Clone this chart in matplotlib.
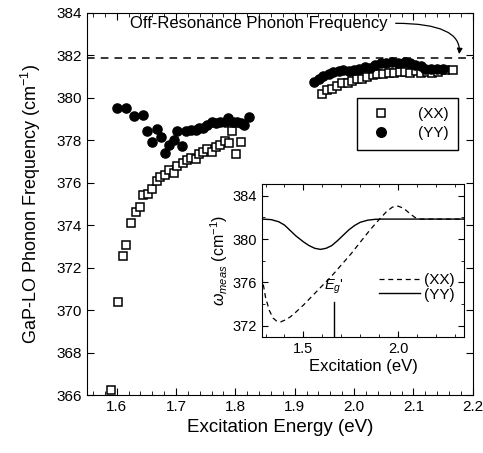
import matplotlib
matplotlib.use("Agg")
from matplotlib import pyplot as plt
from matplotlib.ticker import MultipleLocator

plt.rcParams['font.family'] = ['Liberation Sans', 'DejaVu Sans']
plt.rcParams['mathtext.fontset'] = 'custom'
plt.rcParams['mathtext.rm'] = 'Liberation Sans'
plt.rcParams['mathtext.it'] = 'Liberation Sans:italic'

# measured points (XX) squares
xx_energy = [1.591, 1.602, 1.610, 1.616, 1.625, 1.632, 1.639, 1.645, 1.653, 1.660,
             1.668, 1.673, 1.682, 1.689, 1.696, 1.702, 1.711, 1.718, 1.726, 1.733,
             1.738, 1.746, 1.753, 1.761, 1.768, 1.774, 1.782, 1.789, 1.795, 1.801,
             1.809,
             1.946, 1.955, 1.963, 1.972, 1.980, 1.989, 1.997, 2.005, 2.014, 2.021,
             2.031, 2.039, 2.049, 2.059, 2.067, 2.077, 2.085, 2.094, 2.105, 2.113,
             2.122, 2.132, 2.141, 2.153, 2.166]
xx_freq = [366.25, 370.36, 372.54, 373.06, 374.10, 374.63, 374.83, 375.40, 375.46, 375.70,
           376.07, 376.27, 376.35, 376.59, 376.45, 376.78, 376.90, 377.06, 377.14, 377.09,
           377.33, 377.45, 377.56, 377.45, 377.66, 377.76, 377.95, 377.87, 378.42, 377.37,
           377.92,
           380.16, 380.35, 380.43, 380.54, 380.67, 380.70, 380.78, 380.86, 380.90, 380.98,
           381.06, 381.10, 381.10, 381.14, 381.17, 381.21, 381.21, 381.17, 381.26, 381.17,
           381.21, 381.17, 381.21, 381.30, 381.30]

# measured points (YY) circles
yy_energy = [1.601, 1.615, 1.630, 1.644, 1.652, 1.660, 1.668, 1.674, 1.682, 1.688,
             1.696, 1.702, 1.710, 1.717, 1.725, 1.733, 1.739, 1.746, 1.753, 1.760,
             1.768, 1.774, 1.782, 1.788, 1.796, 1.802, 1.809, 1.815, 1.823,
             1.933, 1.941, 1.948, 1.957, 1.965, 1.974, 1.982, 1.991, 1.999, 2.008,
             2.018, 2.026, 2.036, 2.046, 2.054, 2.064, 2.074, 2.085, 2.094, 2.103,
             2.112, 2.120, 2.130, 2.140, 2.150]
yy_freq = [379.52, 379.49, 379.13, 379.18, 378.44, 377.92, 378.52, 378.13, 377.40, 377.76,
           378.00, 378.44, 377.72, 378.42, 378.50, 378.47, 378.55, 378.55, 378.70, 378.86,
           378.79, 378.86, 378.86, 379.02, 378.86, 378.86, 378.81, 378.70, 379.10,
           380.74, 380.90, 381.00, 381.10, 381.19, 381.25, 381.30, 381.26, 381.30, 381.37,
           381.45, 381.40, 381.53, 381.64, 381.61, 381.66, 381.64, 381.68, 381.61, 381.56,
           381.48, 381.37, 381.37, 381.33, 381.33]

off_resonance = 381.85

# inset model curves
inset_xx_e = [1.28, 1.30, 1.32, 1.34, 1.36, 1.38, 1.40, 1.43, 1.46, 1.50, 1.55, 1.60,
              1.65, 1.70, 1.75, 1.80, 1.85, 1.90, 1.94, 1.97, 2.00, 2.03, 2.06, 2.09,
              2.12, 2.35]
inset_xx_w = [376.6, 374.6, 373.4, 372.7, 372.4, 372.35, 372.5, 372.8, 373.25, 373.9,
              374.8, 375.7, 376.6, 377.6, 378.6, 379.7, 380.8, 381.8, 382.55, 382.95,
              383.05, 382.85, 382.4, 382.0, 381.85, 381.85]
inset_yy_e = [1.28, 1.33, 1.37, 1.40, 1.43, 1.46, 1.50, 1.53, 1.56, 1.59, 1.62, 1.65,
              1.68, 1.71, 1.74, 1.77, 1.80, 1.84, 1.88, 1.92, 2.35]
inset_yy_w = [381.85, 381.8, 381.6, 381.3, 380.8, 380.3, 379.75, 379.4, 379.15, 379.05,
              379.15, 379.4, 379.85, 380.35, 380.85, 381.25, 381.55, 381.75, 381.83,
              381.85, 381.85]
eg_prime = 1.663

fig = plt.figure(figsize=(4.83, 4.53), dpi=100)
ax = fig.add_axes([0.180, 0.128, 0.799, 0.844])

ax.plot(xx_energy, xx_freq, ls='none', marker='s', ms=5.6, mfc='white', mec='black',
        mew=1.1, label='(XX)')
ax.plot(yy_energy, yy_freq, ls='none', marker='o', ms=6.6, mfc='black', mec='black',
        label='(YY)')
ax.axhline(off_resonance, color='black', ls=(0, (5, 4)), lw=1.1)

ax.text(1.84, 383.5, 'Off-Resonance Phonon Frequency', ha='center', va='center',
        fontsize=12)
ax.annotate('', xy=(2.177, 382.05), xytext=(2.07, 383.5),
            arrowprops=dict(arrowstyle='-|>', color='black', lw=0.9, shrinkA=0,
                            shrinkB=0, mutation_scale=8,
                            connectionstyle='angle3,angleA=0,angleB=-95'))

ax.set_xlim(1.55, 2.2)
ax.set_ylim(366, 384)
ax.xaxis.set_major_locator(MultipleLocator(0.1))
ax.xaxis.set_minor_locator(MultipleLocator(0.02))
ax.yaxis.set_major_locator(MultipleLocator(2))
ax.tick_params(which='both', direction='in', top=True, right=True, labelsize=11)
ax.tick_params(which='major', length=5)
ax.tick_params(which='minor', length=3)
ax.set_xlabel('Excitation Energy (eV)', fontsize=13.5)
ax.set_ylabel('GaP-LO Phonon Frequency (cm$^{-1}$)', fontsize=13, labelpad=10)

leg = ax.legend(loc='upper right', bbox_to_anchor=(0.961, 0.777), fontsize=11,
                fancybox=False, edgecolor='black', framealpha=1, borderpad=0.6,
                handletextpad=1.4, labelspacing=0.35, markerscale=1.05,
                borderaxespad=0)
leg.get_frame().set_linewidth(1.0)

# inset
ins = fig.add_axes([0.542, 0.256, 0.419, 0.338])
ins.plot(inset_xx_e, inset_xx_w, color='black', ls=(0, (4, 3)), lw=0.9, label='(XX)')
ins.plot(inset_yy_e, inset_yy_w, color='black', ls='-', lw=1.0, label='(YY)')
ins.plot([eg_prime, eg_prime], [370.9, 374.2], color='black', lw=1.0)
ins.text(eg_prime, 375.6, "$E_g$'", ha='center', va='center', fontsize=10.5)
ins.set_xlim(1.28, 2.35)
ins.set_ylim(370.95, 385.1)
ins.xaxis.set_major_locator(MultipleLocator(0.5))
ins.xaxis.set_minor_locator(MultipleLocator(0.1))
ins.yaxis.set_major_locator(MultipleLocator(4))
ins.yaxis.set_minor_locator(MultipleLocator(2))
ins.tick_params(which='both', direction='in', top=True, right=True, labelsize=10.5)
ins.tick_params(which='major', length=4)
ins.tick_params(which='minor', length=2.5)
ins.set_xlabel('Excitation (eV)', fontsize=12, labelpad=2)
ins.set_ylabel(r'$\omega_{meas}$ (cm$^{-1}$)', fontsize=11.5, labelpad=2)
ins.legend(loc='lower right', bbox_to_anchor=(1.0, 0.17), frameon=False, fontsize=11,
           handlelength=2.7, handletextpad=0.3, labelspacing=0.05, borderaxespad=0.2)

fig.savefig('out.png', dpi=100)
